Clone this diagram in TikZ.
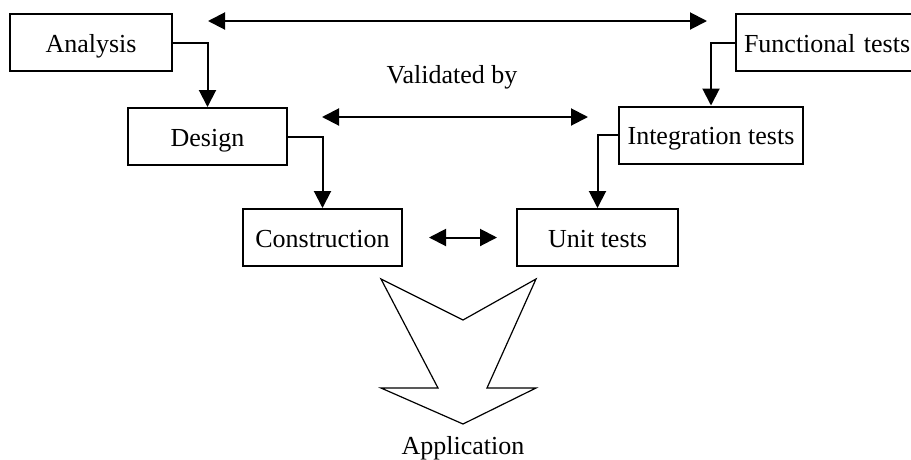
\documentclass[tikz,border=0pt]{standalone}
\usepackage{fontspec}
\setmainfont{Liberation Serif}
\usetikzlibrary{arrows.meta}
\begin{document}
\begin{tikzpicture}[x=1pt,y=-1pt,
  font=\fontsize{26}{30}\selectfont,
  box/.style={draw,line width=2pt,inner sep=0pt,minimum height=57pt,text height=19pt,text depth=0pt},
  tip/.tip={Triangle[length=17pt,width=17pt]},
  flow/.style={line width=2pt,-tip},
  both/.style={line width=2pt,tip-tip},
  bigarrow/.style={line width=1.2pt,line join=miter}]
\clip (0,0) rectangle (911,459);
\fill[white] (0,0) rectangle (911,459);

% left branch of the V
\node[box,minimum width=162pt] (analysis) at (91,42.5) {Analysis};
\node[box,minimum width=159pt] (design) at (207.5,136.5) {Design};
\node[box,minimum width=159pt] (construction) at (322.5,237.5) {Construction};

% right branch of the V
\node[box,minimum width=200pt,text width=184pt,align=left,inner xsep=8pt,anchor=west] (functional) at (735,42.5) {Functional tests};
\node[box,minimum width=184pt] (integration) at (711,135) {Integration tests};
\node[box,minimum width=161pt] (unit) at (597.5,237.5) {Unit tests};

% downward flow
\draw[flow] (analysis.east) -| (design.north);
\draw[flow] (design.east) -| (construction.north);
\draw[flow] (functional.west) -| (integration.north);
\draw[flow] (integration.west) -| (unit.north);

% validation links
\coordinate (topL) at (208,21);
\coordinate (topR) at (707,21);
\coordinate (midL) at (322,117);
\coordinate (midR) at (588,117);
\draw[both] (topL) -- (topR);
\node[anchor=base] (validated) at (452,83) {Validated by};
\draw[both] (midL) -- (midR);
\draw[both,shorten <=26pt,shorten >=19pt] (construction.east) -- (unit.west);

% outline arrow to the application
\coordinate (a1) at (381,279);
\coordinate (a2) at (463,320);
\coordinate (a3) at (536,279);
\coordinate (a4) at (487,388);
\coordinate (a5) at (536,388);
\coordinate (a6) at (463,424);
\coordinate (a7) at (381,388);
\coordinate (a8) at (438,388);
\draw[bigarrow] (a1) -- (a2) -- (a3) -- (a4) -- (a5) -- (a6) -- (a7) -- (a8) -- cycle;
\node[anchor=base] (application) at (463,454) {Application};
\end{tikzpicture}
\end{document}
